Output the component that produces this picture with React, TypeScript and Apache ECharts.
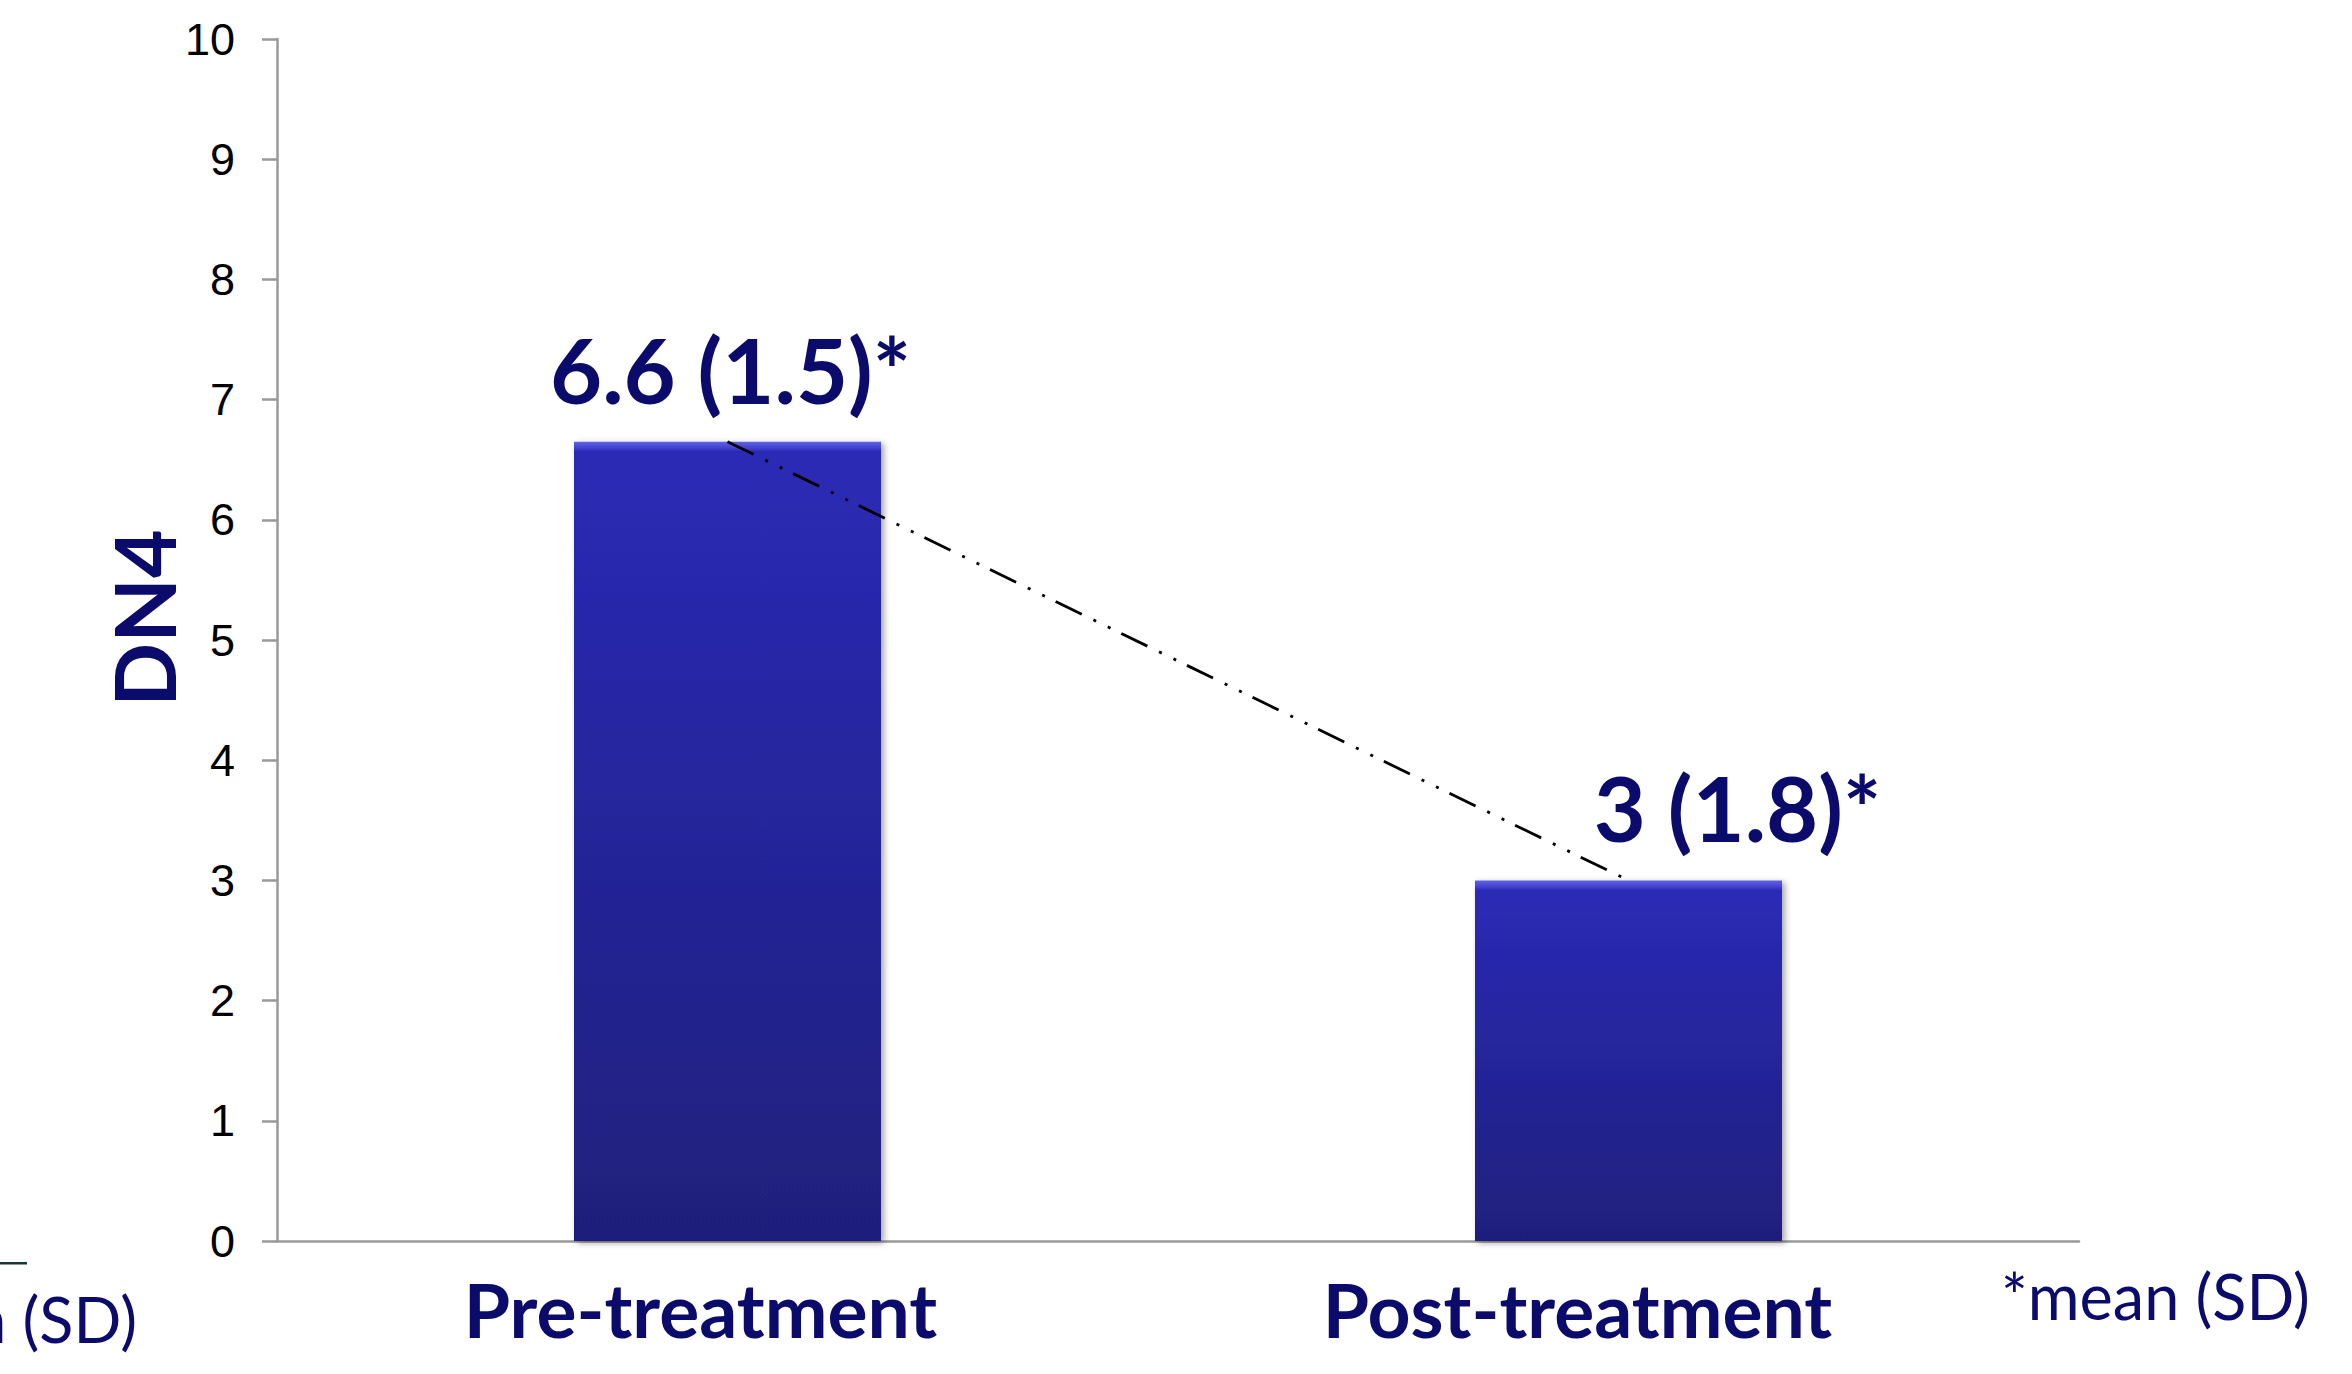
import React, { useEffect, useRef } from "react";
import * as echarts from "echarts";

const categories = ["Pre-treatment", "Post-treatment"];
const meanValues = [6.65, 3.0];
const barLabels = ["6.6 (1.5)*", "3 (1.8)*"];
const yTicks = [0, 1, 2, 3, 4, 5, 6, 7, 8, 9, 10];
const yAxisName = "DN4";
const footnote = "*mean (SD)";

const NAVY = "#0b0b6b";

export default function App() {
  const ref = useRef<HTMLDivElement>(null);
  useEffect(() => {
    if (!ref.current) return;
    const chart = echarts.init(ref.current, undefined, { renderer: "svg" });
    const plotH = 1241 - 39;
    const barData = meanValues.map((v, i) => {
      const px = (v / 10) * plotH;
      const bevel = Math.min(0.2, 10 / px);
      return {
        value: v,
        itemStyle: {
          color: new echarts.graphic.LinearGradient(0, 0, 0, 1, [
            { offset: 0, color: "#6262e6" },
            { offset: bevel * 0.6, color: "#4444d0" },
            { offset: bevel, color: "#2a2ab6" },
            { offset: 1, color: "#1f1f7c" },
          ]),
        },
        label: {
          show: true,
          formatter: barLabels[i],
          offset: i === 1 ? [109, 0] : [3, 0],
        },
      };
    });
    chart.setOption({
      animation: false,
      backgroundColor: "#ffffff",
      grid: { left: 277, right: 273, top: 39, bottom: 133 },
      xAxis: {
        type: "category",
        data: categories,
        axisLine: { lineStyle: { color: "#999999", width: 2.5 } },
        axisTick: { show: false },
        axisLabel: {
          margin: 30,
          formatter: (v: string) => (v === categories[0] ? `{a|${v}}` : `{b|${v}}`),
          rich: {
            a: {
              fontFamily: "Lato",
              fontWeight: "bold",
              fontSize: 75,
              color: NAVY,
              padding: [0, 54, 0, 0],
            },
            b: {
              fontFamily: "Lato",
              fontWeight: "bold",
              fontSize: 75,
              color: NAVY,
              padding: [0, 102, 0, 0],
            },
          },
        },
      },
      yAxis: {
        type: "value",
        min: yTicks[0],
        max: yTicks[yTicks.length - 1],
        interval: 1,
        name: yAxisName,
        nameLocation: "middle",
        nameGap: 92,
        nameRotate: 90,
        nameMoveOverlap: false,
        nameTextStyle: {
          fontFamily: "Lato",
          fontWeight: "bold",
          fontSize: 84,
          color: NAVY,
          padding: [0, 0, 0, 44],
        },
        axisLine: { show: true, lineStyle: { color: "#999999", width: 2.5 } },
        axisTick: { show: true, length: 15, lineStyle: { color: "#999999", width: 2.5 } },
        splitLine: { show: false },
        axisLabel: {
          margin: 42,
          fontFamily: "Liberation Sans",
          fontSize: 45,
          color: "#000000",
        },
      },
      series: [
        {
          type: "bar",
          data: barData,
          barWidth: 307,
          itemStyle: {
            shadowColor: "rgba(0,0,0,0.35)",
            shadowBlur: 6,
            shadowOffsetX: 3,
            shadowOffsetY: 2,
          },
          label: {
            position: "top",
            distance: 28,
            fontFamily: "Lato",
            fontWeight: "bold",
            fontSize: 90,
            color: NAVY,
          },
          z: 2,
        },
        {
          type: "line",
          data: meanValues,
          symbol: "none",
          lineStyle: { color: "#000000", width: 2.8, type: [29, 13, 3, 13, 3, 12] },
          z: 5,
        },
      ],
      graphic: [
        {
          type: "text",
          x: 2001,
          y: 1295,
          style: {
            text: footnote,
            fontFamily: "Lato",
            fontSize: 63,
            fill: NAVY,
            align: "left",
            verticalAlign: "middle",
          },
        },
        {
          type: "text",
          x: 137,
          y: 1318,
          style: {
            text: footnote,
            fontFamily: "Lato",
            fontSize: 63,
            fill: NAVY,
            align: "right",
            verticalAlign: "middle",
          },
        },
        {
          type: "rect",
          shape: { x: 0, y: 1262, width: 27, height: 2.5 },
          style: { fill: "#1b3333" },
        },
      ],
    });
    return () => chart.dispose();
  }, []);
  return (
    <div
      ref={ref}
      style={{ position: "absolute", left: 0, top: 0, width: 2352, height: 1374 }}
    />
  );
}
